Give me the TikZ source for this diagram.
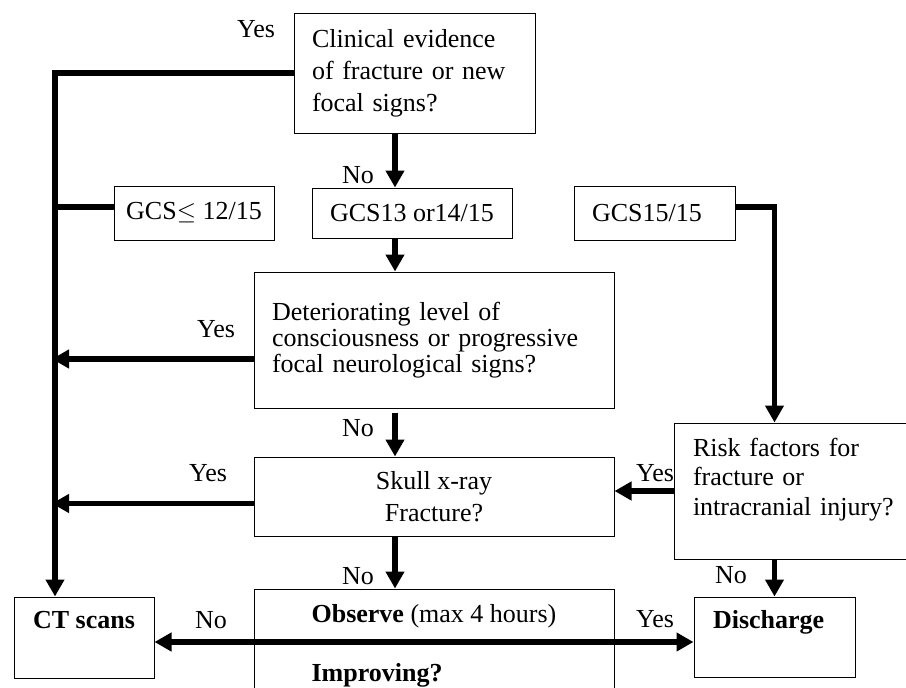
\documentclass[tikz,border=0pt]{standalone}
\usepackage{fontspec}
\setmainfont{Liberation Serif}
\usetikzlibrary{arrows.meta,positioning}

\begin{document}
\begin{tikzpicture}[x=1pt,y=-1pt,
	every node/.style={font=\fontsize{26}{32}\selectfont},
	box/.style={draw,line width=1pt,inner sep=0pt},
	lbl/.style={inner sep=0pt},
	link/.style={line width=5.5pt},
	flow/.style={line width=5.5pt,-{Triangle[length=17pt,width=18pt]}},
	both/.style={line width=5.5pt,{Triangle[length=17pt,width=18pt]}-{Triangle[length=17pt,width=18pt]}}]
	\useasboundingbox (0,0) rectangle (906,688);

	% boxes
	\node[box,minimum width=241pt,minimum height=120pt,text width=205pt,align=left] (clinical) at (414.5,73) {Clinical evidence\\ of fracture or new\\ focal signs?};
	\node[box,minimum width=160pt,minimum height=54pt] (gcs12) at (194,213) {GCS$\leq$ 12/15};
	\node[box,minimum width=200pt,minimum height=50pt] (gcs13) at (412,213) {GCS13 or14/15};
	\node[box,minimum width=161pt,minimum height=54pt,text width=125pt,align=left] (gcs15) at (654.5,213) {GCS15/15};
	\node[box,minimum width=360pt,minimum height=136pt,text width=324pt,align=left,font=\fontsize{26}{26}\selectfont] (det) at (434,340) {Deteriorating level of\\ consciousness or progressive\\ focal neurological signs?};
	\node[box,minimum width=360pt,minimum height=79pt,align=center] (skull) at (434,496.5) {Skull x-ray\\ Fracture?};
	\node[box,minimum width=256pt,minimum height=136pt,text width=218pt,align=left,font=\fontsize{26}{29.5}\selectfont] (risk) at (802,491) {Risk factors for\\ fracture or\\ intracranial injury?\\[-10pt] \strut};
	\node[box,minimum width=360pt,minimum height=114pt,align=left] (observe) at (434,646) {\textbf{Observe} (max 4 hours)\\[27pt] \textbf{Improving?}};
	\node[box,minimum width=140pt,minimum height=81pt,align=center,font=\fontsize{26}{30}\selectfont] (ct) at (84,637.5) {\textbf{CT scans}\\[-4pt] \strut};
	\node[box,minimum width=161pt,minimum height=80pt,text width=123pt,align=left,font=\fontsize{26}{30}\selectfont] (discharge) at (774.5,637) {\textbf{Discharge}\\[-4pt] \strut};

	% labels
	\node[lbl] (yes1) at (256,29) {Yes};
	\node[lbl] (no1) at (358,175) {No};
	\node[lbl] (yes2) at (216,329) {Yes};
	\node[lbl] (no2) at (358,428) {No};
	\node[lbl] (yes3) at (208,473) {Yes};
	\node[lbl] (yes4) at (655,473) {Yes};
	\node[lbl] (no3) at (358,576) {No};
	\node[lbl] (no4) at (731,575) {No};
	\node[lbl] (no5) at (211,620) {No};
	\node[lbl] (yes5) at (655,619) {Yes};

	\coordinate (trunk) at (55,73);
	\coordinate (spine) at (395,0);
	\coordinate (obsline) at (434,642);

	% connectors
	\draw[flow] (clinical.west) -- (trunk) -- (trunk |- ct.north);
	\draw[link] ([yshift=6pt]gcs12.west) -- ([yshift=6pt]gcs12.west -| trunk);
	\draw[flow] (clinical.south -| spine) -- (gcs13.north -| spine);
	\draw[flow] (gcs13.south -| spine) -- (det.north -| spine);
	\draw[flow,shorten >=-3pt] ([yshift=-19pt]det.west) -- ([yshift=-19pt]det.west -| trunk);
	\draw[flow,shorten <=4pt] (det.south -| spine) -- (skull.north -| spine);
	\draw[flow,shorten >=-3pt] ([yshift=-7pt]skull.west) -- ([yshift=-7pt]skull.west -| trunk);
	\draw[flow] (skull.south -| spine) -- (observe.north -| spine);
	\draw[flow] ([yshift=6pt]gcs15.east) -| (risk.north -| discharge.north);
	\draw[flow] (risk.west) -- (risk.west -| skull.east);
	\draw[flow] (risk.south -| discharge.north) -- (discharge.north);
	\draw[both] (ct.east |- obsline) -- (discharge.west |- obsline);
\end{tikzpicture}
\end{document}
